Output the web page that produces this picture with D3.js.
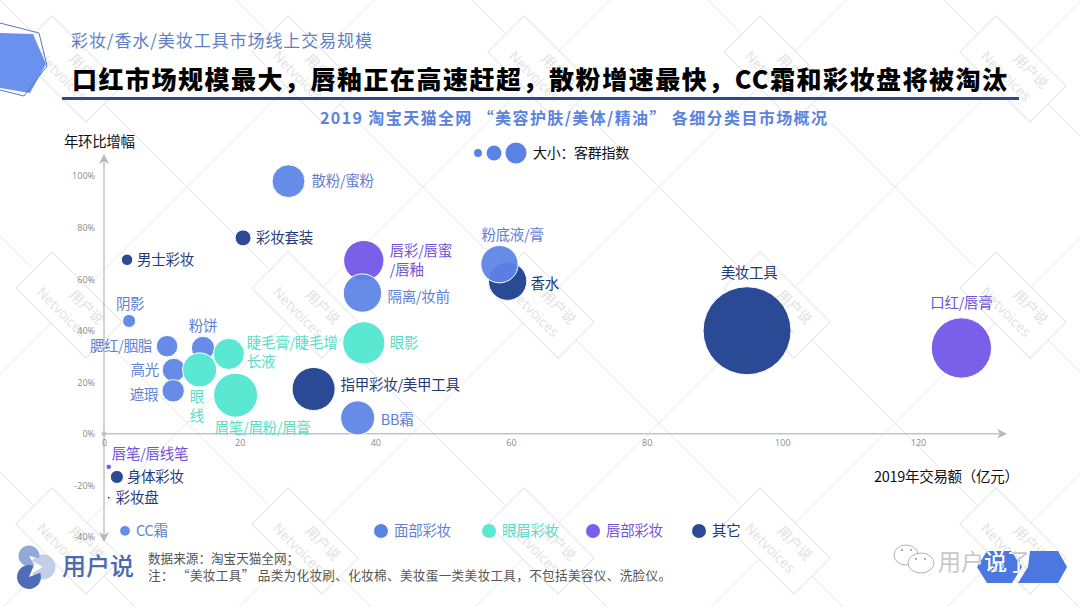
<!DOCTYPE html>
<html lang="zh">
<head>
<meta charset="UTF-8">
<title>口红市场规模最大</title>
<script src="https://d3js.org/d3.v7.min.js"></script>
<style>
  html, body { margin: 0; padding: 0; background: #fff; }
  svg { display: block; font-family: "Noto Sans CJK SC", "Noto Sans", sans-serif; }
  .tick text { font-family: "Open Sans", sans-serif; font-size: 9px; fill: #8a8a8a; }
</style>
</head>
<body>
<svg id="chart" width="1080" height="607"></svg>
<script>
// values
const categories = ["散粉/蜜粉", "彩妆套装", "男士彩妆", "唇彩/唇蜜/唇釉", "隔离/妆前", "粉底液/膏", "香水", "美妆工具", "口红/唇膏",
  "阴影", "粉饼", "腮红/胭脂", "高光", "遮瑕", "睫毛膏/睫毛增长液", "眼线", "眉笔/眉粉/眉膏", "眼影", "指甲彩妆/美甲工具",
  "BB霜", "唇笔/唇线笔", "身体彩妆", "彩妆盘", "CC霜"];
const sales = [27.2, 20.5, 3.4, 38.3, 38.1, 58.3, 59.5, 94.8, 126.4, 3.7, 14.6, 9.3, 10.3, 10.2, 18.4, 14.1, 19.4, 38.3, 30.9, 37.4, 0.7, 1.9, 0.7, 3.1];
const growth = [98, 76, 67.5, 67.2, 54.6, 65.8, 59.2, 40, 33.3, 43.8, 33.3, 34, 24.8, 16.7, 31, 24.8, 15, 35.3, 17.4, 6.2, -12.8, -16.7, -24.8, -37.6];
const audience = [14, 3.3, 1.7, 21, 19, 18, 19, 100, 47, 2.2, 7, 6, 7, 6.5, 12.5, 15, 25, 23, 24, 15, 0.4, 2.2, 0.1, 1.5];
const groups = ["面部", "其它", "其它", "唇部", "面部", "面部", "其它", "其它", "唇部",
  "面部", "面部", "面部", "面部", "面部", "眼眉", "眼眉", "眼眉", "眼眉", "其它",
  "面部", "唇部", "其它", "其它", "面部"];
const legendNames = ["面部彩妆", "眼眉彩妆", "唇部彩妆", "其它"];
const legendGroups = ["面部", "眼眉", "唇部", "其它"];
const sizeLegend = [0.8, 2.9, 5.7];
const xTicks = [0, 20, 40, 60, 80, 100, 120];
const yTicks = [-40, -20, 0, 20, 40, 60, 80, 100];

// label placement, apart from the data: [lines, dx, dy, anchor]
const labelPlacement = {
  "散粉/蜜粉": [["散粉/蜜粉"], 23, 0, "start"],
  "彩妆套装": [["彩妆套装"], 13, 0, "start"],
  "男士彩妆": [["男士彩妆"], 10, 0, "start"],
  "唇彩/唇蜜/唇釉": [["唇彩/唇蜜", "/唇釉"], 26, -10, "start"],
  "隔离/妆前": [["隔离/妆前"], 25, 4, "start"],
  "粉底液/膏": [["粉底液/膏"], -18, -29, "start"],
  "香水": [["香水"], 23, 3, "start"],
  "美妆工具": [["美妆工具"], 2, -58, "middle"],
  "口红/唇膏": [["口红/唇膏"], 0, -45, "middle"],
  "阴影": [["阴影"], 1, -17, "middle"],
  "粉饼": [["粉饼"], 0, -22, "middle"],
  "腮红/胭脂": [["腮红/胭脂"], -15, 0, "end"],
  "高光": [["高光"], -15, 0, "end"],
  "遮瑕": [["遮瑕"], -15, 4, "end"],
  "睫毛膏/睫毛增长液": [["睫毛膏/睫毛增", "长液"], 18, -11, "start"],
  "眼线": [["眼", "线"], -10, 27, "start"],
  "眉笔/眉粉/眉膏": [["眉笔/眉粉/眉膏"], -21, 33, "start"],
  "眼影": [["眼影"], 26, 0, "start"],
  "指甲彩妆/美甲工具": [["指甲彩妆/美甲工具"], 27, -4, "start"],
  "BB霜": [["BB霜"], 23, 2, "start"],
  "唇笔/唇线笔": [["唇笔/唇线笔"], 3, -13, "start"],
  "身体彩妆": [["身体彩妆"], 10, 0, "start"],
  "彩妆盘": [["彩妆盘"], 7, 0, "start"],
  "CC霜": [["CC霜"], 11, 0, "start"]
};

const fillColor = { "面部": "#5b83e6", "眼眉": "#5ae8d3", "唇部": "#7a5fe8", "其它": "#2b4a96" };
const textColor = { "面部": "#5f7fd0", "眼眉": "#5adcc8", "唇部": "#7054d4", "其它": "#1f3a78" };
const drawOrder = ["其它", "唇部", "面部", "眼眉"];

const svg = d3.select("#chart");
const x = d3.scaleLinear().domain([0, 120]).range([104, 918]);
const y = d3.scaleLinear().domain([-40, 100]).range([537, 176]);
const r = d3.scaleSqrt().domain([0, 100]).range([0, 44]);

// watermark lattice behind everything
const lattice = svg.append("g").attr("stroke", "#e8e8e8").attr("stroke-width", 1);
for (let k = -3; k <= 5; k++) {
  const c = 236 * k;
  lattice.append("line").attr("x1", c).attr("y1", 0).attr("x2", c + 700).attr("y2", 700);
  lattice.append("line").attr("x1", 1082 + c).attr("y1", 0).attr("x2", 1082 + c - 700).attr("y2", 700);
}
const wm = svg.append("g");
[69, 305, 541].forEach(cy => [69, 305, 541, 777, 1013].forEach(cx => {
  const g = wm.append("g").attr("transform", `translate(${cx},${cy}) rotate(45)`);
  g.append("rect").attr("x", -49.5).attr("y", -25.5).attr("width", 99).attr("height", 51)
    .attr("fill", "#fff").attr("stroke", "#e8e8e8").attr("stroke-width", 1.2);
  g.append("text").attr("x", 14).attr("y", -6).attr("text-anchor", "middle")
    .attr("font-size", 14).attr("fill", "#e2e2e2").text("用户说");
  g.append("text").attr("x", 0).attr("y", 15).attr("text-anchor", "middle")
    .attr("font-size", 14).attr("font-family", "Open Sans").attr("fill", "#e2e2e2").text("Netvoices");
}));

// corner decoration
svg.append("path").attr("d", "M0,33L33,34L46,64L30,93L0,88Z").attr("fill", "#6b91ee");
svg.append("path").attr("d", "M0,23L39,33L47,66L24,96L0,90").attr("fill", "none").attr("stroke", "#5a77b8").attr("stroke-width", 1);

// headings
svg.append("text").attr("x", 71).attr("y", 47).attr("font-size", 17).attr("fill", "#5f7fc4")
  .attr("textLength", 301).attr("lengthAdjust", "spacing").text("彩妆/香水/美妆工具市场线上交易规模");
svg.append("text").attr("x", 72).attr("y", 89).attr("font-size", 25).attr("font-weight", 900).attr("fill", "#000")
  .attr("textLength", 935).attr("lengthAdjust", "spacing").text("口红市场规模最大，唇釉正在高速赶超，散粉增速最快，CC霜和彩妆盘将被淘汰");
svg.append("rect").attr("x", 62).attr("y", 97).attr("width", 957).attr("height", 3).attr("fill", "#2b4a96");
svg.append("text").attr("x", 320).attr("y", 124).attr("font-size", 16).attr("font-weight", 700)
  .attr("fill", "#5b83dc").attr("textLength", 507).attr("lengthAdjust", "spacing")
  .style("white-space", "pre")
  .text("2019 淘宝天猫全网 “美容护肤/美体/精油” 各细分类目市场概况");

// axes
const defs = svg.append("defs");
defs.append("marker").attr("id", "arrow").attr("viewBox", "0 0 10 10").attr("refX", 9).attr("refY", 5)
  .attr("markerWidth", 10).attr("markerHeight", 10).attr("markerUnits", "userSpaceOnUse").attr("orient", "auto")
  .append("path").attr("d", "M0,0L10,5L0,10L3,5Z").attr("fill", "#b8b8b8");
const axisLines = svg.append("g").attr("stroke", "#c4c4c4").attr("stroke-width", 1.5);
axisLines.append("line").attr("x1", x(0)).attr("x2", 1006).attr("y1", y(0)).attr("y2", y(0)).attr("marker-end", "url(#arrow)");
axisLines.append("line").attr("x1", x(0)).attr("x2", x(0)).attr("y1", y(0)).attr("y2", 155).attr("marker-end", "url(#arrow)");
axisLines.append("line").attr("x1", x(0)).attr("x2", x(0)).attr("y1", y(0)).attr("y2", 541).attr("marker-end", "url(#arrow)");
svg.append("circle").attr("cx", x(0)).attr("cy", y(0)).attr("r", 2.5).attr("fill", "#c4c4c4");

const xAxis = svg.append("g").attr("transform", `translate(0,${y(0)})`)
  .call(d3.axisBottom(x).tickValues(xTicks).tickSize(0).tickPadding(6));
xAxis.select(".domain").remove();
const yAxis = svg.append("g").attr("transform", `translate(${x(0)},0)`)
  .call(d3.axisLeft(y).tickValues(yTicks).tickSize(0).tickPadding(9).tickFormat(d => d + "%"));
yAxis.select(".domain").remove();

svg.append("text").attr("x", 64).attr("y", 147).attr("font-size", 14.5).attr("fill", "#111").attr("letter-spacing", -0.4).text("年环比增幅");
svg.append("text").attr("x", 874).attr("y", 482).attr("font-size", 14.5).attr("fill", "#111").attr("letter-spacing", -0.3).text("2019年交易额（亿元）");

// bubbles
const points = categories.map((name, i) => ({ name, sx: sales[i], sy: growth[i], size: audience[i], group: groups[i] }));
svg.append("g").selectAll("circle")
  .data(d3.sort(points, d => drawOrder.indexOf(d.group)))
  .join("circle")
  .attr("cx", d => x(d.sx)).attr("cy", d => y(d.sy)).attr("r", d => r(d.size))
  .attr("fill", d => fillColor[d.group]).attr("fill-opacity", d => d.group === "面部" ? 0.93 : 1)
  .attr("stroke", "#fff").attr("stroke-width", 1);

// bubble labels
const labels = svg.append("g").attr("font-size", 14.5).attr("letter-spacing", -0.3);
points.forEach(d => {
  const [lines, dx, dy, anchor] = labelPlacement[d.name];
  lines.forEach((line, j) => {
    labels.append("text")
      .attr("x", x(d.sx) + dx).attr("y", y(d.sy) + dy + j * 19)
      .attr("dy", "0.35em").attr("text-anchor", anchor)
      .attr("fill", textColor[d.group]).text(line);
  });
});

// size legend
const sizeX = d3.scaleOrdinal().domain(sizeLegend).range([478, 494, 516]);
svg.append("g").selectAll("circle").data(sizeLegend).join("circle")
  .attr("cx", d => sizeX(d)).attr("cy", 153).attr("r", d => r(d)).attr("fill", fillColor["面部"]);
svg.append("text").attr("x", 533).attr("y", 158).attr("font-size", 14).attr("fill", "#111").attr("letter-spacing", -0.3).text("大小：客群指数");

// group legend
const legendX = d3.scaleOrdinal().domain(legendGroups).range([381, 489, 593, 699]);
const legend = svg.append("g").selectAll("g").data(legendGroups).join("g")
  .attr("transform", d => `translate(${legendX(d)},531)`);
legend.append("circle").attr("r", 7).attr("fill", d => fillColor[d]);
legend.append("text").attr("x", 13).attr("dy", "0.35em").attr("font-size", 14.5).attr("letter-spacing", -0.3)
  .attr("fill", d => textColor[d]).text((d, i) => legendNames[i]);

// logo
const logo = svg.append("g");
const mouth = d3.arc().innerRadius(0);
logo.append("path").attr("transform", "translate(43,567)")
  .attr("d", mouth({ outerRadius: 12.5, startAngle: -1.08, endAngle: 4.2 })).attr("fill", "#c3cfe8");
logo.append("path").attr("transform", "translate(29,556)")
  .attr("d", mouth({ outerRadius: 10.5, startAngle: 2.6, endAngle: 8.08 })).attr("fill", "#93a8d6");
logo.append("path").attr("transform", "translate(29,577)")
  .attr("d", mouth({ outerRadius: 12, startAngle: 1.2, endAngle: 6.68 })).attr("fill", "#4f6db4");
svg.append("text").attr("x", 62).attr("y", 575).attr("font-size", 24).attr("font-weight", 500).attr("fill", "#4c6aae").text("用户说");

// source note
svg.append("text").attr("x", 148).attr("y", 563).attr("font-size", 12.6).attr("fill", "#555").text("数据来源：淘宝天猫全网；");
svg.append("text").attr("x", 148).attr("y", 580).attr("font-size", 12.6).attr("fill", "#555")
  .attr("textLength", 523).attr("lengthAdjust", "spacing")
  .text("注： “美妆工具” 品类为化妆刷、化妆棉、美妆蛋一类美妆工具，不包括美容仪、洗脸仪。");

// page tab and account mark
const tabPaths = ["M977,567L987,551L1011,551L1022,567L1012,583L987,583Z", "M1030,551L1058,551L1067,567L1058,583L1018,583L1028,567Z"];
svg.append("g").selectAll("path").data(tabPaths).join("path").attr("d", d => d).attr("fill", "#4a78e0");
svg.append("text").attr("x", 998).attr("y", 572).attr("text-anchor", "middle").attr("font-size", 12).attr("fill", "#dfe7fa").text("32");
const clip = defs.append("clipPath").attr("id", "tabs");
clip.selectAll("path").data(tabPaths).join("path").attr("d", d => d);
const account = (fill, clipped) => {
  const t = svg.append("text").attr("x", 938).attr("y", 570).attr("font-size", 23).attr("fill", fill).text("用户说了");
  if (clipped) t.attr("clip-path", "url(#tabs)");
};
account("#c8c8c8", false);
account("#ffffff", true);
const wechat = svg.append("g").attr("fill", "none").attr("stroke", "#aaa").attr("stroke-width", 0.9);
wechat.append("ellipse").attr("cx", 906).attr("cy", 555).attr("rx", 12).attr("ry", 10);
wechat.append("ellipse").attr("cx", 921).attr("cy", 563).attr("rx", 13).attr("ry", 10).attr("fill", "#fff");
wechat.selectAll("circle").data([[902, 550], [911, 550], [916, 559], [925, 559]]).join("circle")
  .attr("cx", d => d[0]).attr("cy", d => d[1]).attr("r", 1).attr("fill", "#999").attr("stroke", "none");
</script>
</body>
</html>
